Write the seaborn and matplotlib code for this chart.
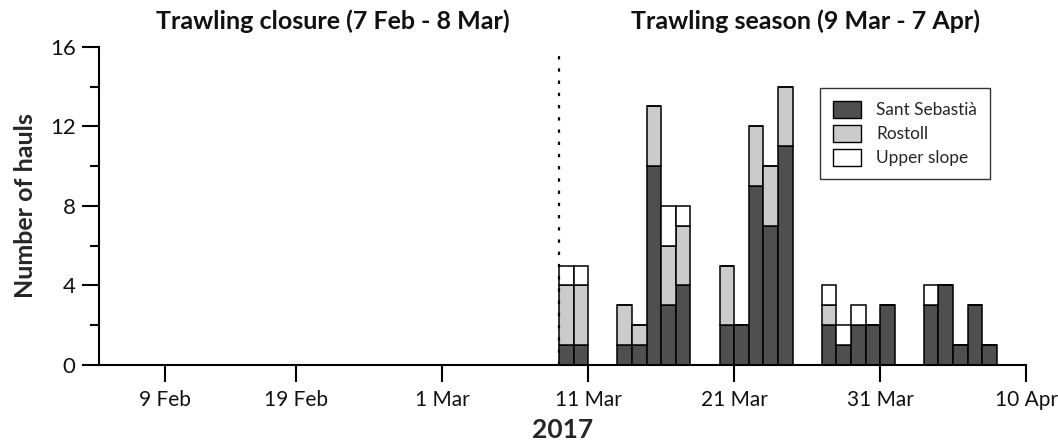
import matplotlib
matplotlib.use("Agg")
import matplotlib.pyplot as plt
import matplotlib.transforms as mtransforms
from matplotlib.patches import Patch
from matplotlib.ticker import FixedLocator, MultipleLocator
import numpy as np
import pandas as pd
import seaborn as sns

# Haul days, counted from 1 March 2017 (day 0); each bar covers one day
haul_day = [8, 9, 12, 13, 14, 15, 16, 19, 20, 21, 22, 23,
            26, 27, 28, 29, 30, 33, 34, 35, 36, 37]
sant_sebastia = [1, 1, 1, 1, 10, 3, 4, 2, 2, 9, 7, 11,
                 2, 1, 2, 2, 3, 3, 4, 1, 3, 1]
rostoll = [3, 3, 2, 1, 3, 3, 3, 3, 0, 3, 3, 3,
           1, 0, 0, 0, 0, 0, 0, 0, 0, 0]
upper_slope = [1, 1, 0, 0, 0, 2, 1, 0, 0, 0, 0, 0,
               1, 1, 1, 0, 0, 1, 0, 0, 0, 0]

sites = ["Sant Sebastià", "Rostoll", "Upper slope"]
site_colors = ["#4f4f4f", "#cbcbcb", "#ffffff"]

season_start = 8          # 9 Mar: first day of the trawling season
x_range = (-23.5, 40)     # 5 Feb .. 10 Apr
tick_days = [-19, -10, 0, 10, 20, 30, 40]
tick_labels = ["9 Feb", "19 Feb", "1 Mar", "11 Mar", "21 Mar", "31 Mar", "10 Apr"]

period_titles = ["Trawling closure (7 Feb - 8 Mar)",
                 "Trawling season (9 Mar - 7 Apr)"]
period_title_x = [-7.5, 24.9]

df = pd.concat([
    pd.DataFrame({"day": haul_day, "hauls": vals, "site": name})
    for name, vals in zip(sites, [sant_sebastia, rostoll, upper_slope])
], ignore_index=True)

sns.set_style("ticks")
plt.rcParams["font.family"] = ["Lato", "DejaVu Sans"]
plt.rcParams["axes.linewidth"] = 1.5

fig = plt.figure(figsize=(10.58, 4.42), dpi=100)
ax = fig.add_axes([0.0939, 0.1742, 0.9698 - 0.0939, 0.8943 - 0.1742])

# Stacked daily bars; the last hue level sits at the bottom of each stack
sns.histplot(
    data=df, x="day", weights="hauls", hue="site",
    hue_order=sites[::-1], palette=dict(zip(sites, site_colors)),
    multiple="stack", binwidth=1, binrange=(season_start, 38),
    edgecolor="black", linewidth=1.1, alpha=1, legend=False, ax=ax,
)

# Start of the trawling season
ax.vlines(season_start, 0, 15.7, colors="black", linestyles=(0, (1.5, 4)),
          linewidth=1.6, zorder=3)

ax.set_xlim(*x_range)
ax.set_ylim(0, 16)
ax.xaxis.set_major_locator(FixedLocator(tick_days))
ax.set_xticklabels(tick_labels)
ax.yaxis.set_major_locator(MultipleLocator(4))
ax.yaxis.set_minor_locator(MultipleLocator(2))
ax.tick_params(axis="both", which="major", length=12, width=1.5,
               color="black", labelcolor="#111111")
ax.tick_params(axis="x", labelsize=15, pad=6)
ax.tick_params(axis="y", labelsize=16, pad=5)
ax.tick_params(axis="y", which="minor", length=6.5, width=1.5, color="black")
sns.despine(ax=ax)
for side in ("left", "bottom"):
    ax.spines[side].set_color("black")

ax.set_xlabel("2017", fontsize=19, fontweight="bold", labelpad=6)
ax.set_ylabel("Number of hauls", fontsize=18, fontweight="bold", labelpad=9)

trans = mtransforms.blended_transform_factory(ax.transData, fig.transFigure)
for label, xpos in zip(period_titles, period_title_x):
    ax.text(xpos, 0.953, label, transform=trans, ha="center", va="center",
            fontsize=18, fontweight="bold", color="#111111")

handles = [Patch(facecolor=c, edgecolor="black", linewidth=1.0) for c in site_colors]
leg = ax.legend(handles, sites, loc="upper left", bbox_to_anchor=(0.778, 0.870),
                borderaxespad=0, fontsize=12.4, frameon=True, fancybox=False,
                handlelength=1.63, handleheight=1.16, labelspacing=0.38,
                borderpad=0.75, handletextpad=0.87)
leg.get_frame().set_edgecolor("black")
leg.get_frame().set_linewidth(1.0)

fig.savefig("out.png", dpi=100)
